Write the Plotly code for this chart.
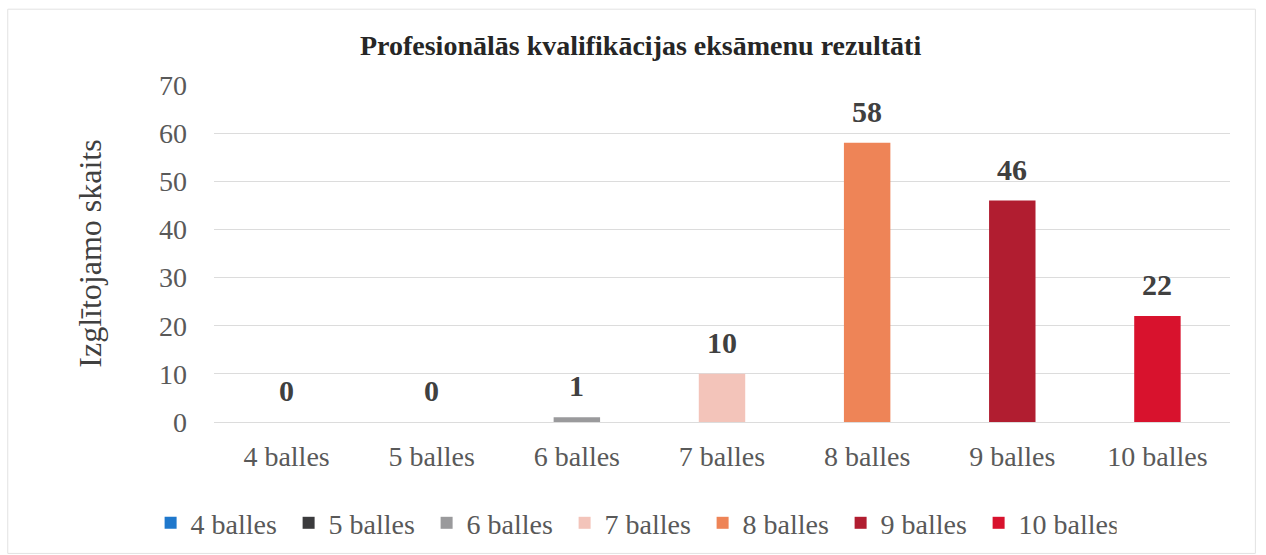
import plotly.graph_objects as go

categories = ["4 balles", "5 balles", "6 balles", "7 balles", "8 balles", "9 balles", "10 balles"]
values = [0, 0, 1, 10, 58, 46, 22]
colors = ["#1f78cc", "#3b3b3d", "#9a9a9c", "#f3c4ba", "#ee8457", "#b11d30", "#d8122d"]
y_ticks = [0, 10, 20, 30, 40, 50, 60, 70]

FONT = "Liberation Serif, Times New Roman, serif"

fig = go.Figure()
for cat, val, col in zip(categories, values, colors):
    fig.add_trace(go.Bar(
        x=[cat], y=[val], name=cat,
        marker=dict(color=col, line=dict(width=0)),
        width=0.32,
    ))
    fig.add_annotation(
        x=cat, y=val, xref="x", yref="y",
        text=f"<b>{val}</b>", showarrow=False,
        yanchor="bottom", yshift=13,
        font=dict(family=FONT, size=30, color="#404040"),
    )

fig.update_layout(
    width=1266, height=555,
    barmode="overlay",
    paper_bgcolor="white", plot_bgcolor="white",
    margin=dict(l=214, r=36, t=85, b=133, autoexpand=False),
    title=dict(text="<b>Profesionālās kvalifikācijas eksāmenu rezultāti</b>",
               x=0.506, xanchor="center", y=0.919, yanchor="middle",
               font=dict(family=FONT, size=28, color="#262626")),
    font=dict(family=FONT, color="#595959"),
    showlegend=True,
    legend=dict(orientation="h", x=0.413, xanchor="center", y=-0.30, yanchor="middle",
                font=dict(family=FONT, size=28, color="#595959"),
                itemwidth=30, entrywidth=93, tracegroupgap=0, traceorder="normal"),
    xaxis=dict(categoryorder="array", categoryarray=categories,
               tickfont=dict(family=FONT, size=28, color="#595959"),
               showgrid=False, showline=False, ticks="", ticklabelstandoff=15),
    yaxis=dict(range=[0, 70], tickvals=y_ticks,
               tickfont=dict(family=FONT, size=28, color="#595959"),
               showgrid=True, gridcolor="#dcdcdc", gridwidth=1,
               zeroline=True, zerolinecolor="#dcdcdc", zerolinewidth=1,
               ticks="", ticklabelstandoff=26,
               title=dict(text="Izglītojamo skaits", standoff=47,
                          font=dict(family=FONT, size=32, color="#404040"))),
    shapes=[dict(type="rect", xref="paper", yref="paper",
                 x0=-0.203, x1=1.025, y0=-0.39, y1=1.225,
                 line=dict(color="#e2e2e2", width=1))],
)

fig.write_html("out.html")
